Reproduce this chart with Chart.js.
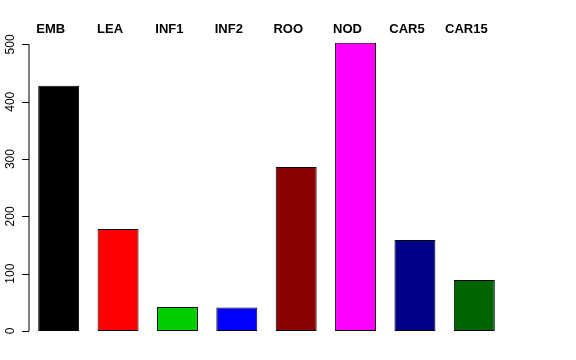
<!DOCTYPE html>
<html>
<head>
<meta charset="utf-8">
<script src="https://cdn.jsdelivr.net/npm/chart.js@4"></script>
<style>
  html, body { margin: 0; padding: 0; background: #fff; }
  #wrap { width: 576px; height: 360px; }
</style>
</head>
<body>
<div id="wrap"><canvas id="chart"></canvas></div>
<script>
const categories = ['EMB', 'LEA', 'INF1', 'INF2', 'ROO', 'NOD', 'CAR5', 'CAR15'];
const counts = [428, 178, 42, 41, 286, 503, 159, 89];
const barColors = ['#000000', '#FF0000', '#00CD00', '#0000FF', '#8B0000', '#FF00FF', '#00008B', '#006400'];
const yTicks = [0, 100, 200, 300, 400, 500];

// axis, ticks and labels drawn like base R barplot
const rAxis = {
    id: 'rAxis',
    afterDraw(chart) {
        const ctx = chart.ctx;
        const x = chart.scales.x, y = chart.scales.y;
        const ax = chart.chartArea.left;
        ctx.save();
        ctx.strokeStyle = '#000';
        ctx.lineWidth = 1;
        ctx.beginPath();
        ctx.moveTo(ax, y.getPixelForValue(yTicks[0]));
        ctx.lineTo(ax, y.getPixelForValue(yTicks[yTicks.length - 1]));
        yTicks.forEach(v => {
            const py = Math.round(y.getPixelForValue(v)) + 0.5;
            ctx.moveTo(ax, py);
            ctx.lineTo(ax - 7, py);
        });
        ctx.stroke();

        ctx.fillStyle = '#000';
        ctx.font = '12px "Liberation Sans", Arial, sans-serif';
        ctx.textAlign = 'center';
        ctx.textBaseline = 'middle';
        yTicks.forEach(v => {
            ctx.save();
            ctx.translate(11, y.getPixelForValue(v));
            ctx.rotate(-Math.PI / 2);
            ctx.fillText(String(v), 0, 0);
            ctx.restore();
        });

        ctx.font = 'bold 13px "Liberation Sans", Arial, sans-serif';
        categories.forEach((c, i) => {
            ctx.fillText(c, x.getPixelForValue(i) - 8, 29);
        });
        ctx.restore();
    }
};

new Chart(document.getElementById('chart'), {
    type: 'bar',
    data: {
        labels: categories,
        datasets: [{
            data: counts,
            backgroundColor: barColors,
            borderColor: '#000',
            borderWidth: 1,
            borderSkipped: false,
            barPercentage: 0.69,
            categoryPercentage: 1.0
        }]
    },
    options: {
        responsive: true,
        maintainAspectRatio: false,
        animation: false,
        layout: { padding: { left: 29, right: 72, top: 33, bottom: 29 } },
        plugins: { legend: { display: false }, tooltip: { enabled: false } },
        scales: {
            x: { display: false },
            y: { display: false, min: 0, max: 520 }
        }
    },
    plugins: [rAxis]
});
</script>
</body>
</html>
